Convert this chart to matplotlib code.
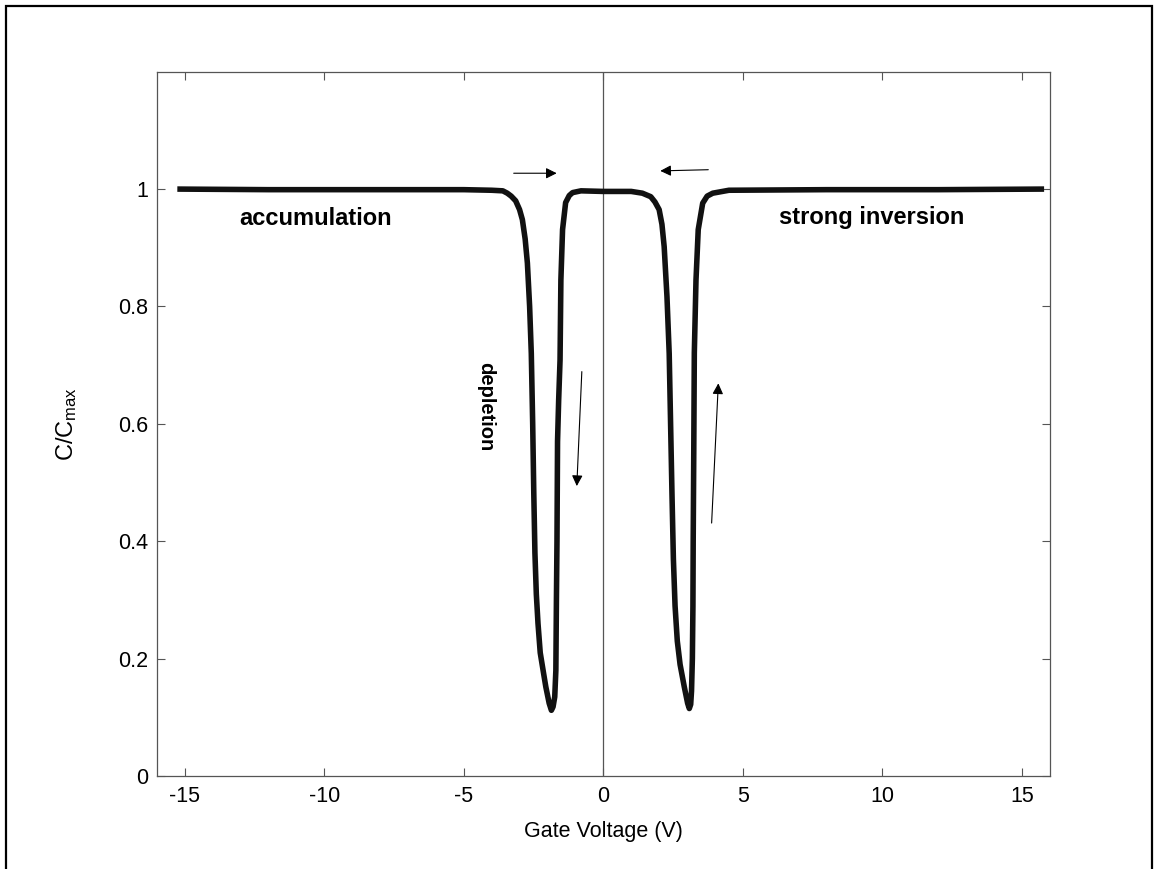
import matplotlib
matplotlib.use("Agg")
import matplotlib.pyplot as plt
from matplotlib.patches import Rectangle

plt.rcParams['font.family'] = ['Liberation Sans', 'DejaVu Sans']

# C-V curve (gate voltage in V, normalised capacitance)
vg = [-15.26, -12.0, -8.0, -5.0, -4.0, -3.6, -3.44, -3.3, -3.14, -3.0, -2.90,
      -2.80, -2.72, -2.64, -2.58, -2.53, -2.49, -2.45, -2.40, -2.34, -2.26,
      -2.14, -2.06, -1.94, -1.86, -1.80, -1.74, -1.70, -1.68, -1.66, -1.64,
      -1.60, -1.55, -1.52, -1.46, -1.35, -1.22, -1.10, -0.8, 0.0, 1.0, 1.4,
      1.70, 1.85, 2.00, 2.10, 2.18, 2.28, 2.36, 2.41, 2.46, 2.51, 2.57, 2.65,
      2.75, 2.90, 3.02, 3.08, 3.13, 3.16, 3.19, 3.21, 3.22, 3.24, 3.26, 3.32,
      3.40, 3.56, 3.72, 3.92, 4.5, 8.0, 12.0, 15.79]
c_norm = [1.000, 0.999, 0.999, 0.999, 0.998, 0.997, 0.993, 0.988, 0.980, 0.965, 0.948,
          0.915, 0.874, 0.800, 0.720, 0.600, 0.480, 0.380, 0.310, 0.260, 0.210,
          0.175, 0.152, 0.124, 0.112, 0.118, 0.135, 0.180, 0.300, 0.400, 0.570,
          0.640, 0.709, 0.845, 0.931, 0.977, 0.989, 0.994, 0.997, 0.996, 0.996, 0.993,
          0.987, 0.978, 0.965, 0.940, 0.902, 0.817, 0.720, 0.600, 0.480, 0.370, 0.290, 0.230,
          0.190, 0.152, 0.124, 0.115, 0.122, 0.145, 0.200, 0.289, 0.402, 0.550, 0.721, 0.845,
          0.931, 0.976, 0.988, 0.993, 0.998, 0.999, 0.999, 1.000]

xticks = [-15, -10, -5, 0, 5, 10, 15]
yticks = [0, 0.2, 0.4, 0.6, 0.8, 1]

# annotations: (text, x, y)
labels = [("accumulation", -10.3, 0.950), ("strong inversion", 9.6, 0.951)]
# sweep arrows: (x_tail, y_tail, x_head, y_head)
arrows = [(-3.21, 1.027, -1.67, 1.027),
          (3.76, 1.033, 2.04, 1.031),
          (-0.77, 0.689, -0.95, 0.494),
          (3.88, 0.431, 4.12, 0.669)]

fig = plt.figure(figsize=(11.58, 8.69), dpi=100)
ax = fig.add_axes([0.1353, 0.107, 0.7714, 0.8105])

ax.axvline(0, color='#555555', lw=0.9)
ax.plot(vg, c_norm, color='#111111', lw=4, solid_joinstyle='round', solid_capstyle='butt')

for txt, x, y in labels:
    ax.text(x, y, txt, fontsize=17, fontweight='bold', ha='center', va='center')
ax.text(-4.2, 0.629, "depletion", fontsize=14.5, fontweight='bold', rotation=-90,
        ha='center', va='center')

for x0, y0, x1, y1 in arrows:
    ax.annotate("", xy=(x1, y1), xytext=(x0, y0),
                arrowprops=dict(arrowstyle='-|>', color='black', lw=0.8,
                                mutation_scale=16, shrinkA=0, shrinkB=0))

ax.set_xlim(-16, 16)
ax.set_ylim(0, 1.2)
ax.set_xticks(xticks)
ax.set_xticklabels([str(t) for t in xticks])
ax.set_yticks(yticks)
ax.set_yticklabels(['0', '0.2', '0.4', '0.6', '0.8', '1'])
ax.tick_params(direction='in', length=6, width=0.8, color='#555555', labelsize=15.5,
               top=True, right=True)
ax.tick_params(axis='x', pad=7)
ax.tick_params(axis='y', pad=6)
for sp in ax.spines.values():
    sp.set_color('#555555')
    sp.set_linewidth(0.9)

ax.set_xlabel("Gate Voltage (V)", fontsize=15.5, labelpad=10)
ax.set_ylabel(r"$\mathregular{C/C_{max}}$", fontsize=17, labelpad=28)

# outer frame
fig.patches.append(Rectangle((6 / 1158, -0.05), 1146 / 1158, 1.05 - 6 / 869,
                             transform=fig.transFigure, fill=False,
                             edgecolor='black', lw=1.6))

fig.savefig("out.png", dpi=100)
